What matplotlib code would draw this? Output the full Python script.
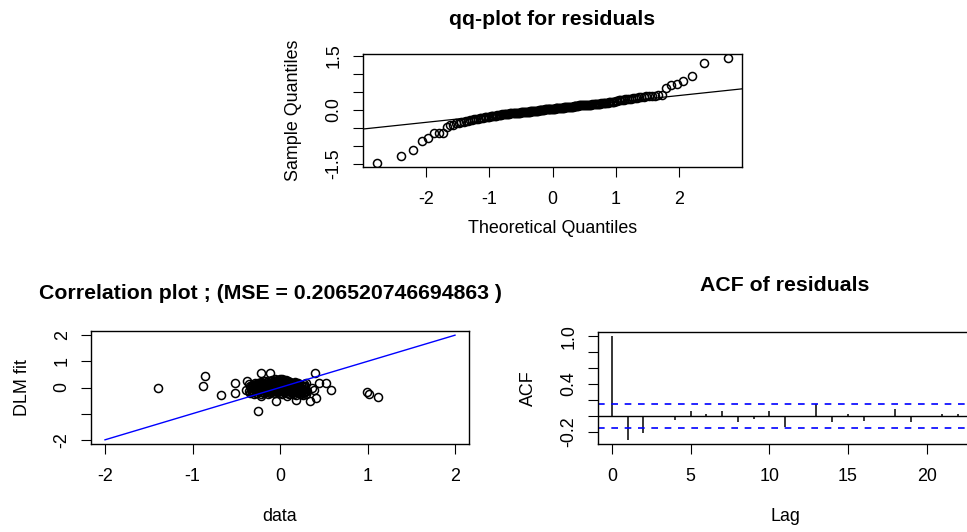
import numpy as np
import matplotlib
matplotlib.use("Agg")
import matplotlib.pyplot as plt
from statistics import NormalDist

plt.rcParams["font.family"] = ["Liberation Sans", "DejaVu Sans"]
plt.rcParams["font.size"] = 12.9
plt.rcParams["axes.unicode_minus"] = False

# sorted model residuals (one value per observation)
residuals = [
    -1.48, -1.30, -1.11, -0.87, -0.79, -0.65, -0.64, -0.64, -0.48, -0.43, -0.42, -0.38, -0.36,
    -0.35, -0.33, -0.31, -0.30, -0.29, -0.28,
    -0.27, -0.26, -0.25, -0.24, -0.23, -0.22, -0.21,
    -0.20, -0.20, -0.19, -0.18, -0.18, -0.17, -0.17, -0.16, -0.15,
    -0.15, -0.14, -0.14, -0.13, -0.13, -0.12, -0.12, -0.11, -0.11,
    -0.11, -0.10, -0.10, -0.10, -0.09, -0.09, -0.09, -0.08, -0.08, -0.08,
    -0.08, -0.07, -0.07, -0.07, -0.06, -0.06, -0.06, -0.05, -0.05, -0.05, -0.05,
    -0.04, -0.04, -0.04, -0.03, -0.03, -0.03, -0.02, -0.02, -0.02, -0.01, -0.01, -0.01,
    0.00, 0.00, 0.00, 0.00, 0.01, 0.01, 0.01, 0.01, 0.02, 0.02, 0.02, 0.02,
    0.03, 0.03, 0.03, 0.03, 0.04, 0.04, 0.04, 0.05, 0.05, 0.05, 0.05, 0.06, 0.06,
    0.06, 0.07, 0.07, 0.07, 0.07, 0.08, 0.08, 0.08, 0.09, 0.09, 0.09, 0.10,
    0.10, 0.10, 0.11, 0.11, 0.11, 0.12, 0.12, 0.12, 0.12, 0.13, 0.13,
    0.13, 0.13, 0.13, 0.14, 0.14, 0.14, 0.14, 0.15, 0.15, 0.15,
    0.15, 0.16, 0.16, 0.17, 0.17, 0.18, 0.18, 0.19, 0.19,
    0.20, 0.20, 0.21, 0.21, 0.22, 0.22, 0.23, 0.24, 0.25,
    0.26, 0.27, 0.27, 0.28, 0.29, 0.29, 0.30,
    0.31, 0.32, 0.33, 0.34, 0.35,
    0.36, 0.37, 0.38, 0.38, 0.39, 0.39, 0.40, 0.42,
    0.62, 0.69, 0.72, 0.80, 0.95, 1.31, 1.44,
]

# observed data vs DLM fitted values
obs_data = [
    -1.39, -0.86, -0.88, -0.67, -0.51, -0.51, -0.38, -0.39, -0.22, -0.11, -0.25, -0.22,
    -0.05, 0.08, 0.18, 0.34, 0.41, 0.40, 0.45, 0.53, 0.58, 0.30, 0.36, 0.22, 0.26,
    0.39, 0.30, 0.99, 1.02, 1.12,
    -0.34, -0.35, -0.33, -0.34, -0.36,
    -0.30, -0.31, -0.29, -0.30, -0.31, -0.29,
    -0.26, -0.27, -0.25, -0.26, -0.25,
    -0.22, -0.21, -0.23, -0.22, -0.21, -0.22,
    -0.18, -0.19, -0.17, -0.18, -0.19, -0.17,
    -0.14, -0.13, -0.15, -0.14, -0.13, -0.15,
    -0.10, -0.11, -0.09, -0.10, -0.11, -0.09,
    -0.06, -0.05, -0.07, -0.06, -0.05, -0.07, -0.06,
    -0.02, -0.03, -0.01, -0.02, -0.03, -0.01,
    0.02, 0.03, 0.01, 0.02, 0.03, 0.01, 0.02,
    0.06, 0.05, 0.07, 0.06, 0.05, 0.07,
    0.10, 0.11, 0.09, 0.10, 0.11, 0.09,
    0.14, 0.13, 0.15, 0.14, 0.13,
    0.18, 0.19, 0.17, 0.18, 0.19, 0.17,
    0.22, 0.21, 0.23, 0.22, 0.21,
    0.26, 0.27, 0.25, 0.26, 0.27,
    0.30, 0.31, 0.29,
    -0.32, -0.33, -0.31, -0.32,
    -0.28, -0.27, -0.29, -0.28, -0.27,
    -0.24, -0.25, -0.23, -0.24,
    -0.20, -0.21, -0.19, -0.20, -0.21,
    -0.16, -0.15, -0.17, -0.16, -0.15,
    -0.12, -0.13, -0.11, -0.12, -0.13, -0.11,
    -0.08, -0.07, -0.09, -0.08, -0.07,
    -0.04, -0.05, -0.03, -0.04, -0.05, -0.03,
    0.00, 0.01, -0.01, 0.00, 0.01, -0.01, 0.00,
    0.04, 0.03, 0.05, 0.04, 0.03, 0.05,
    0.08, 0.09, 0.07, 0.08, 0.09, 0.07,
    0.12, 0.11, 0.13, 0.12, 0.11,
    0.16, 0.17, 0.15, 0.16, 0.17,
    0.20, 0.19, 0.21, 0.20,
    0.24, 0.25, 0.23, 0.24,
    0.28, 0.27, 0.29,
]
dlm_fit = [
    0.00, 0.43, 0.04, -0.27, 0.16, -0.21, 0.26, -0.10, 0.56, 0.56, -0.91, -0.34,
    -0.53, -0.34, -0.48, -0.53, -0.41, 0.56, 0.16, 0.19, -0.09, 0.16, -0.02, -0.10, -0.22,
    -0.10, -0.13, -0.16, -0.24, -0.37,
    -0.22, -0.12, -0.03, 0.06, 0.14,
    -0.25, -0.15, -0.06, 0.02, 0.10, 0.18,
    -0.20, -0.10, -0.01, 0.08, 0.16,
    -0.26, -0.16, -0.07, 0.03, 0.12, 0.20,
    -0.21, -0.11, -0.02, 0.07, 0.15, 0.24,
    -0.24, -0.14, -0.05, 0.04, 0.12, 0.21,
    -0.19, -0.09, 0.00, 0.09, 0.18, 0.27,
    -0.22, -0.12, -0.03, 0.06, 0.14, 0.23, 0.31,
    -0.17, -0.07, 0.02, 0.11, 0.20, 0.29,
    -0.25, -0.14, -0.04, 0.05, 0.14, 0.24, 0.34,
    -0.19, -0.09, 0.01, 0.10, 0.19, 0.28,
    -0.26, -0.15, -0.05, 0.05, 0.14, 0.24,
    -0.20, -0.10, 0.00, 0.09, 0.18,
    -0.27, -0.16, -0.05, 0.05, 0.14, 0.22,
    -0.21, -0.11, 0.00, 0.10, 0.18,
    -0.30, -0.18, -0.06, 0.05, 0.13,
    -0.24, -0.12, 0.02,
    -0.18, -0.08, 0.01, 0.10,
    -0.20, -0.11, -0.02, 0.06, 0.14,
    -0.15, -0.05, 0.04, 0.13,
    -0.19, -0.10, -0.01, 0.08, 0.17,
    -0.16, -0.06, 0.03, 0.11, 0.20,
    -0.20, -0.10, 0.00, 0.08, 0.16, 0.24,
    -0.15, -0.05, 0.04, 0.13, 0.22,
    -0.19, -0.09, 0.00, 0.09, 0.18, 0.27,
    -0.21, -0.11, -0.01, 0.08, 0.17, 0.26, 0.32,
    -0.16, -0.06, 0.03, 0.12, 0.21, 0.30,
    -0.22, -0.12, -0.02, 0.07, 0.16, 0.25,
    -0.17, -0.07, 0.03, 0.12, 0.21,
    -0.23, -0.13, -0.02, 0.07, 0.16,
    -0.18, -0.08, 0.03, 0.13,
    -0.25, -0.14, -0.03, 0.08,
    -0.19, -0.07, 0.06,
]
mse_text = "0.206520746694863"
ref_line = [-2, 2]

# autocorrelation of residuals, lags 0..22
acf_vals = [1.0, -0.30, -0.22, 0.005, -0.05, 0.067, 0.025, 0.067, -0.07, -0.033, 0.067,
            -0.14, 0.005, 0.15, -0.07, 0.03, -0.065, -0.005, 0.09, -0.07, 0.004, 0.03, 0.03]

TITLE_SIZE = 15.3
MARK = dict(mfc="none", mec="black", ms=5.8, mew=1.1, linestyle="none", marker="o")


def r_lim(lo, hi):
    d = 0.04 * (hi - lo)
    return lo - d, hi + d


def r_style(ax, xticks, yticks, ylabels):
    for s in ax.spines.values():
        s.set_linewidth(1.0)
    ax.set_xticks(xticks)
    ax.set_yticks(yticks, ylabels)
    ax.tick_params(direction="out", length=7.2, width=0.8)
    ax.tick_params(axis="x", pad=10)
    ax.tick_params(axis="y", pad=7.4)
    for lbl in ax.get_yticklabels():
        lbl.set_rotation(90)
        lbl.set_va("center")


fig = plt.figure(figsize=(9.67, 5.32), dpi=100)

# qq-plot
ax1 = fig.add_axes([363 / 967, 1 - 167 / 532, 379 / 967, 113 / 532])
sample = np.sort(np.array(residuals))
n = len(sample)
probs = (np.arange(1, n + 1) - 0.5) / n
nd = NormalDist()
theo = np.array([nd.inv_cdf(p) for p in probs])
ax1.plot(theo, sample, **MARK)
q_s = np.quantile(sample, [0.25, 0.75])
q_t = np.array([nd.inv_cdf(0.25), nd.inv_cdf(0.75)])
slope = (q_s[1] - q_s[0]) / (q_t[1] - q_t[0])
icpt = q_s[0] - slope * q_t[0]
ax1.set_xlim(r_lim(theo.min(), theo.max()))
ax1.set_ylim(r_lim(sample.min(), sample.max()))
ax1.axline((0, icpt), slope=slope, color="black", lw=0.9)
r_style(ax1, [-2, -1, 0, 1, 2], [-1.5, -1.0, -0.5, 0.0, 0.5, 1.0, 1.5],
        ["-1.5", "", "", "0.0", "", "", "1.5"])
ax1.set_xlabel("Theoretical Quantiles")
ax1.set_ylabel("Sample Quantiles")
ax1.xaxis.set_label_coords(0.5, -53.2 / 113)
ax1.yaxis.set_label_coords(-60.8 / 379, 0.5)
ax1.text(0.5, 1.255, "qq-plot for residuals", transform=ax1.transAxes,
         ha="center", va="baseline", fontsize=TITLE_SIZE, fontweight="bold")

# correlation plot
ax2 = fig.add_axes([91 / 967, 1 - 444 / 532, 378 / 967, 113 / 532])
ax2.plot(obs_data, dlm_fit, **MARK)
ax2.plot(ref_line, ref_line, color="blue", lw=1.0)
ax2.set_xlim(r_lim(-2, 2))
ax2.set_ylim(r_lim(-2, 2))
r_style(ax2, [-2, -1, 0, 1, 2], [-2, -1, 0, 1, 2], ["-2", "", "0", "1", "2"])
ax2.set_xlabel("data")
ax2.set_ylabel("DLM fit")
ax2.xaxis.set_label_coords(0.5, -64.2 / 113)
ax2.yaxis.set_label_coords(-59.8 / 378, 0.5)
ax2.text(0.476, 1.28, "Correlation plot ; (MSE = " + mse_text + " )", transform=ax2.transAxes,
         ha="center", va="baseline", fontsize=TITLE_SIZE, fontweight="bold")

# ACF of residuals
ax3 = fig.add_axes([598 / 967, 1 - 444 / 532, 374 / 967, 112 / 532])
acf = np.array(acf_vals)
lags = np.arange(len(acf))
ci = 1.96 / np.sqrt(n)
ax3.vlines(lags, 0, acf, color="black", lw=1.1)
ax3.axhline(0, color="black", lw=1.0)
for c in (ci, -ci):
    ax3.axhline(c, color="blue", lw=1.2, linestyle=(0, (4, 4)))
ax3.set_xlim(r_lim(0, lags.max()))
ax3.set_ylim(r_lim(min(acf.min(), -ci), max(acf.max(), ci)))
r_style(ax3, [0, 5, 10, 15, 20], [-0.2, 0.0, 0.2, 0.4, 0.6, 0.8, 1.0],
        ["-0.2", "", "", "0.4", "", "", "1.0"])
ax3.set_xlabel("Lag")
ax3.set_ylabel("ACF")
ax3.xaxis.set_label_coords(0.5, -64.2 / 112)
ax3.yaxis.set_label_coords(-60.8 / 374, 0.5)
ax3.text(0.5, 1.37, "ACF of residuals", transform=ax3.transAxes,
         ha="center", va="baseline", fontsize=TITLE_SIZE, fontweight="bold")

fig.savefig("out.png", dpi=100)
